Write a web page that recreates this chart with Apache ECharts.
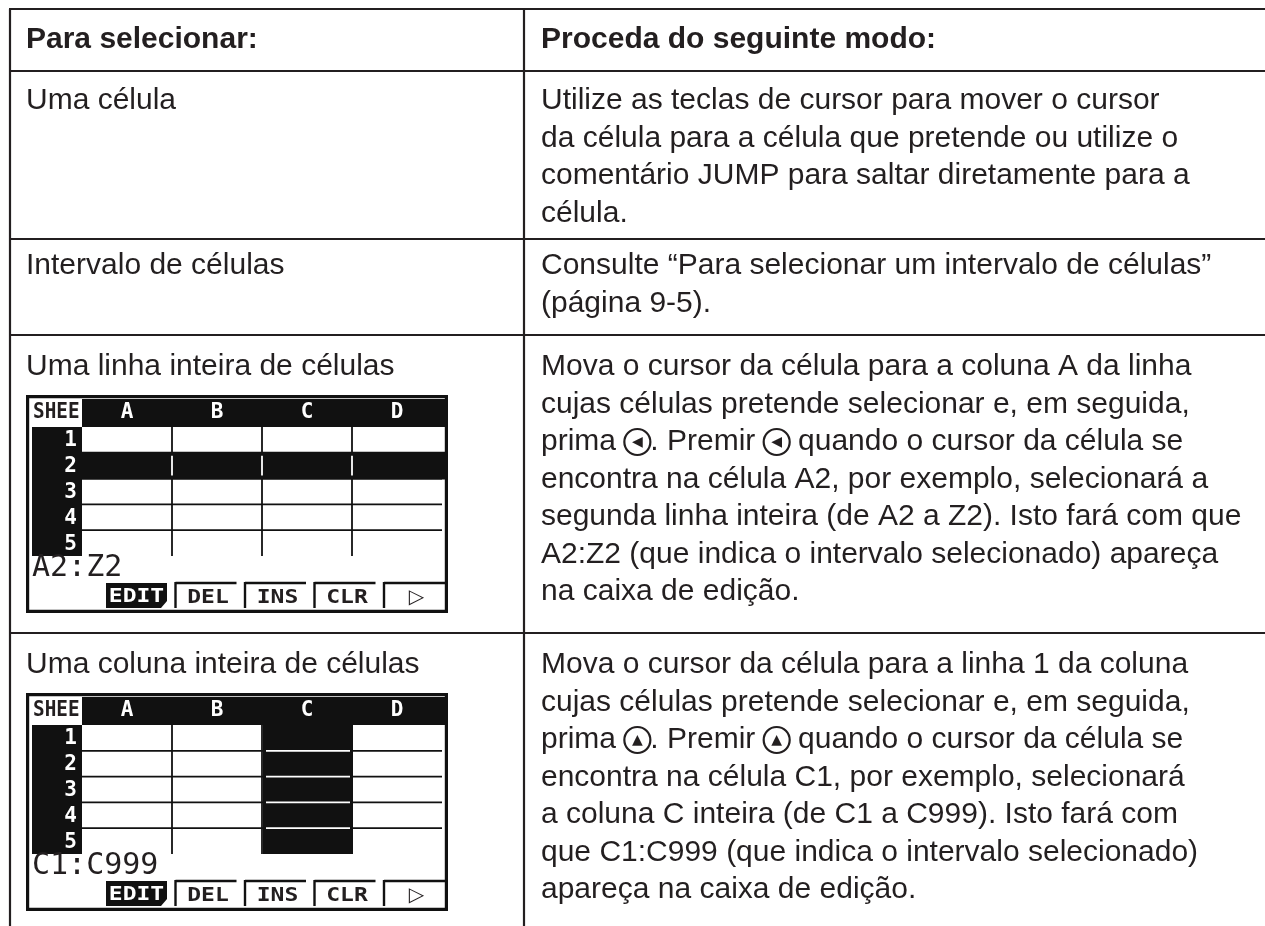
<!DOCTYPE html>
<html>
<head>
<meta charset="utf-8">
<script src="https://cdn.jsdelivr.net/npm/echarts@6/dist/echarts.min.js"></script>
<style>
html,body{margin:0;padding:0;background:#fff;}
#c{width:1265px;height:926px;}
</style>
</head>
<body>
<div id="c"></div>
<script>
// ---- data ----
const headers = ['Para selecionar:', 'Proceda do seguinte modo:'];
const selections = ['Uma célula', 'Intervalo de células', 'Uma linha inteira de células', 'Uma coluna inteira de células'];
const procedures = [
  ['Utilize as teclas de cursor para mover o cursor',
   'da célula para a célula que pretende ou utilize o',
   'comentário JUMP para saltar diretamente para a',
   'célula.'],
  ['Consulte “Para selecionar um intervalo de células”',
   '(página 9-5).'],
  ['Mova o cursor da célula para a coluna A da linha',
   'cujas células pretende selecionar e, em seguida,',
   'prima ◀. Premir ◀ quando o cursor da célula se',
   'encontra na célula A2, por exemplo, selecionará a',
   'segunda linha inteira (de A2 a Z2). Isto fará com que',
   'A2:Z2 (que indica o intervalo selecionado) apareça',
   'na caixa de edição.'],
  ['Mova o cursor da célula para a linha 1 da coluna',
   'cujas células pretende selecionar e, em seguida,',
   'prima ▲. Premir ▲ quando o cursor da célula se',
   'encontra na célula C1, por exemplo, selecionará',
   'a coluna C inteira (de C1 a C999). Isto fará com',
   'que C1:C999 (que indica o intervalo selecionado)',
   'apareça na caixa de edição.']
];
// calculator screen contents
const screenColumns = ['A', 'B', 'C', 'D'];
const screenRows = ['1', '2', '3', '4', '5'];
const screenSheet = 'SHEE';
const screenEdit = ['', '', 'A2:Z2', 'C1:C999'];
const screenSelect = [null, null, {type: 'row', index: 1}, {type: 'col', index: 2}];
const softKeys = ['EDIT', 'DEL', 'INS', 'CLR', '▷'];

// ---- layout ----
const INK = '#231f20';
const FONT = '"Liberation Sans", Arial, Helvetica, sans-serif';
const FS = 30;
const leftX = 10, divX = 524, W = 1265, H = 926;
const hLines = [9, 71, 239, 335, 633];
const headerY = 40;
const firstLine = [101, 266, 367, 665];
const STEP = 37.5;
const textX = [26, 541];

const g = [];
function line(x1, y1, x2, y2, w, c) {
  g.push({type: 'line', silent: true, shape: {x1, y1, x2, y2}, style: {stroke: c || INK, lineWidth: w || 2.2}});
}
function rect(x, y, w, h, fill) {
  g.push({type: 'rect', silent: true, shape: {x, y, width: w, height: h}, style: {fill: fill}});
}
function txt(x, y, s, opt) {
  opt = opt || {};
  g.push({type: 'text', silent: true, x, y, scaleX: opt.scaleX || 1, style: Object.assign({
    text: s, fill: INK, font: (opt.weight || 'normal') + ' ' + (opt.size || FS) + 'px ' + (opt.family || FONT),
    align: opt.align || 'left', verticalAlign: 'middle'
  }, opt.extra || {})});
}

// table grid
hLines.forEach(y => line(leftX - 1, y, W, y));
line(leftX, hLines[0], leftX, H);
line(divX, hLines[0], divX, H);

// header
txt(textX[0], headerY, headers[0], {weight: 'bold'});
txt(textX[1], headerY, headers[1], {weight: 'bold'});

const rich = {
  k: {width: 26, height: 26, lineHeight: 26, borderRadius: 13, borderColor: INK, borderWidth: 2.2,
      align: 'center', verticalAlign: 'middle', fontSize: 14, fontFamily: '"DejaVu Sans"', fill: INK}
};
function richify(s) {
  return s.replace(/([◀▲])/g, '{k|$1}');
}

selections.forEach((s, i) => {
  txt(textX[0], firstLine[i], s);
  procedures[i].forEach((l, j) => {
    const y = firstLine[i] + j * STEP;
    if (/[◀▲]/.test(l)) {
      txt(textX[1], y, richify(l), {extra: {rich: rich}});
    } else {
      txt(textX[1], y, l);
    }
  });
});

// calculator screens
const MONO = '"DejaVu Sans Mono", monospace';
function screen(i) {
  const x0 = 26, y0 = hLines[i + 1] + 60;
  const sw = 422, sh = 218;
  g.push({type: 'rect', silent: true, shape: {x: x0 + 1.6, y: y0 + 1.6, width: sw - 3.2, height: sh - 3.2},
          style: {fill: '#fff', stroke: '#111', lineWidth: 3.2}});
  const colL = [82, 172, 262, 352, 442];
  const rowT = [];
  for (let r = 0; r <= 5; r++) rowT.push(y0 + 32 + r * 25.8);
  // header bar
  rect(82, y0 + 4, 442 - 82 + 3, 28, '#111');
  txt(33, y0 + 18, screenSheet, {weight: 'bold', size: 21, family: MONO, scaleX: 0.92});
  screenColumns.forEach((c, k) => txt((colL[k] + colL[k + 1]) / 2, y0 + 18, c,
    {weight: 'bold', size: 21, family: MONO, align: 'center', extra: {fill: '#fff'}}));
  // row numbers column
  rect(32, rowT[0], 50, rowT[5] - rowT[0], '#111');
  screenRows.forEach((r, k) => txt(77, (rowT[k] + rowT[k + 1]) / 2 + 1, r,
    {weight: 'bold', size: 21, family: MONO, align: 'right', extra: {fill: '#fff'}}));
  // grid
  for (let r = 1; r <= 4; r++) line(82, rowT[r], 442, rowT[r], 1.8, '#111');
  for (let k = 1; k <= 3; k++) line(colL[k], rowT[0], colL[k], rowT[5], 1.8, '#111');
  const sel = screenSelect[i];
  if (sel && sel.type === 'row') {
    const a = rowT[sel.index] - 1, b = rowT[sel.index + 1] + 1;
    rect(82, a, 442 - 82 + 3, b - a, '#111');
    for (let k = 1; k <= 3; k++) line(colL[k], a + 4, colL[k], b - 4, 1.8, '#fff');
  }
  if (sel && sel.type === 'col') {
    const a = colL[sel.index] + 1, b = colL[sel.index + 1] + 1;
    rect(a, rowT[0], b - a, rowT[5] - rowT[0], '#111');
    for (let r = 1; r <= 4; r++) line(a + 3, rowT[r], b - 3, rowT[r], 1.8, '#fff');
  }
  // edit line
  txt(32, y0 + 173, screenEdit[i], {size: 30, family: MONO, scaleX: 1.0});
  // soft keys
  const ky = y0 + 188, kh = 25;
  softKeys.forEach((k, n) => {
    const kx = 106 + n * 69.5, kw = 61;
    if (n === 0) {
      g.push({type: 'polygon', silent: true, shape: {points: [[kx, ky], [kx + kw, ky], [kx + kw, ky + kh - 7], [kx + kw - 6, ky + kh], [kx, ky + kh]]},
              style: {fill: '#111'}});
      txt(kx + kw / 2, ky + kh / 2 + 1, k, {weight: 'bold', size: 20, family: MONO, align: 'center', scaleX: 1.15, extra: {fill: '#fff'}});
    } else {
      line(kx, ky, kx + kw, ky, 2.4, '#111');
      line(kx, ky - 1, kx, ky + kh, 2.4, '#111');
      txt(kx + kw / 2 + 2, ky + kh / 2 + 2, k, {weight: 'bold', size: 20, family: n === 4 ? '"DejaVu Sans"' : MONO, align: 'center', scaleX: n === 4 ? 1 : 1.15});
    }
  });
}
screen(2);
screen(3);

const chart = echarts.init(document.getElementById('c'), null, {renderer: 'canvas'});
chart.setOption({backgroundColor: '#fff', animation: false, graphic: g});
</script>
</body>
</html>
